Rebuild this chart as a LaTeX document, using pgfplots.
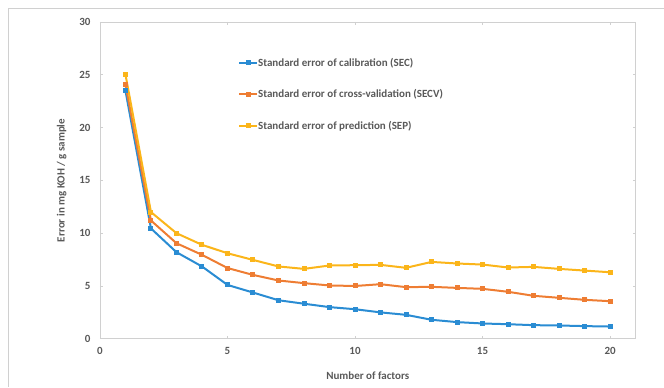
\documentclass[border=0pt]{standalone}
\usepackage{pgfplots}
\pgfplotsset{compat=1.18}
\usepackage{fontspec}
\setmainfont{Carlito}
\definecolor{cblue}{HTML}{2A8CD3}
\definecolor{corange}{HTML}{EE7D33}
\definecolor{cyellow}{HTML}{FBB51A}
\definecolor{ctext}{HTML}{595959}
\definecolor{cframe}{HTML}{D0D0D0}
\begin{document}
\begin{tikzpicture}
\begin{axis}[
  anchor=origin,
  scale only axis, width=536pt, height=317pt,
  xmin=0, xmax=21, ymin=0, ymax=30,
  xtick={0,5,...,20}, ytick={0,5,...,30},
  axis line style={cframe, line width=0.8pt},
  tick style={cframe, line width=0.6pt},
  tick align=inside, major tick length=3pt,
  tick label style={font=\bfseries\fontsize{11}{13}\selectfont, text=ctext},
  xticklabel style={yshift=-5pt},
  yticklabel style={xshift=-6pt},
  /pgf/number format/assume math mode=true,
  xlabel={Number of factors}, ylabel={Error in mg KOH / g sample},
  label style={font=\bfseries\fontsize{11}{13}\selectfont, text=ctext},
  xlabel style={yshift=-10pt},
  ylabel style={yshift=6pt},
  legend style={at={(0.252,0.9)}, anchor=north west, draw=none, fill=none,
    font=\bfseries\fontsize{11}{13}\selectfont, text=ctext, row sep=18pt,
    nodes={inner xsep=0pt}},
  legend cell align=left,
  legend image code/.code={
    \draw[#1,mark=none] (0pt,0pt) -- (18pt,0pt);
    \draw[#1,only marks] plot coordinates {(9pt,0pt)};
  },
  every axis plot/.append style={line width=2pt, mark=square*, mark size=1.5pt},
]
\addplot[cblue, mark options={fill=cblue}] coordinates {
(1,23.5)(2,10.45)(3,8.2)(4,6.85)(5,5.1)(6,4.38)(7,3.65)(8,3.32)(9,3.0)(10,2.8)
(11,2.5)(12,2.27)(13,1.8)(14,1.58)(15,1.45)(16,1.38)(17,1.29)(18,1.26)(19,1.2)(20,1.16)};
\addlegendentry{Standard error of calibration (SEC)}
\addplot[corange, mark options={fill=corange}] coordinates {
(1,24.1)(2,11.2)(3,9.05)(4,7.95)(5,6.7)(6,6.05)(7,5.52)(8,5.27)(9,5.05)(10,5.0)
(11,5.17)(12,4.89)(13,4.92)(14,4.82)(15,4.73)(16,4.45)(17,4.07)(18,3.88)(19,3.69)(20,3.56)};
\addlegendentry{Standard error of cross-validation (SECV)}
\addplot[cyellow, mark options={fill=cyellow}] coordinates {
(1,25.04)(2,12.0)(3,10.0)(4,8.9)(5,8.1)(6,7.47)(7,6.85)(8,6.62)(9,6.94)(10,6.97)
(11,7.0)(12,6.72)(13,7.28)(14,7.13)(15,7.03)(16,6.75)(17,6.81)(18,6.62)(19,6.46)(20,6.3)};
\addlegendentry{Standard error of prediction (SEP)}
\end{axis}
\draw[cframe,line width=0.8pt] (-92pt,-48pt) -- (-92pt,331pt) -- (564pt,331pt);
\useasboundingbox (-100pt,-48pt) rectangle (564pt,339pt);
\end{tikzpicture}
\end{document}
